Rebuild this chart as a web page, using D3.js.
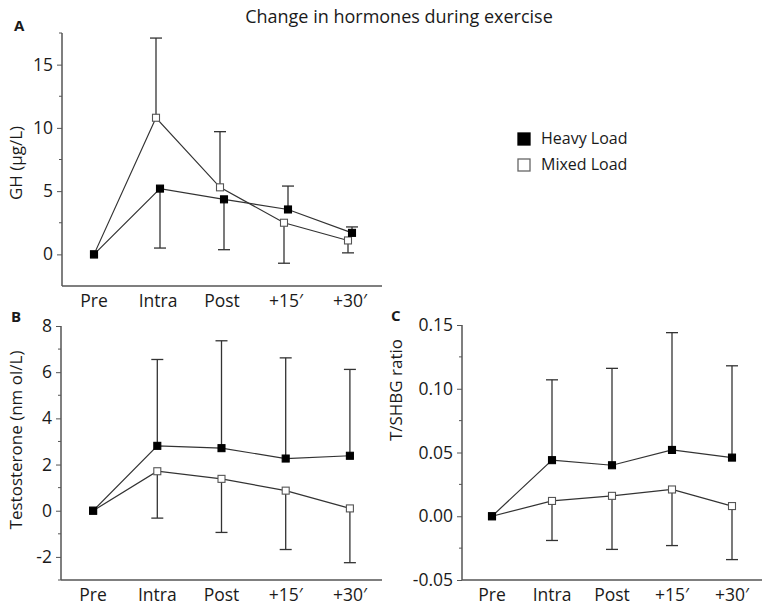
<!DOCTYPE html>
<html>
<head>
<meta charset="utf-8">
<script src="https://cdn.jsdelivr.net/npm/d3@7"></script>
<style>
  body { margin: 0; background: #fff; }
  text { font-family: "Open Sans", "Noto Sans", sans-serif; fill: #1a1a1a; }
</style>
</head>
<body>
<svg id="chart" width="771" height="610"></svg>
<script>
// categories
const timepoints = ["Pre", "Intra", "Post", "+15\u2032", "+30\u2032"];
const seriesNames = ["Heavy Load", "Mixed Load"];

// A: GH (ug/L)
const ghHeavy = [0, 5.2, 4.35, 3.55, 1.7];
const ghHeavySD = [0, 4.7, 3.98, 1.85, 0.47];
const ghMixed = [0, 10.8, 5.3, 2.5, 1.1];
const ghMixedSD = [0, 6.3, 4.4, 3.2, 0.98];

// B: testosterone (nmol/L)
const testHeavy = [0, 2.81, 2.71, 2.26, 2.38];
const testHeavySD = [0, 3.74, 4.65, 4.36, 3.74];
const testMixed = [0, 1.71, 1.38, 0.87, 0.1];
const testMixedSD = [0, 2.03, 2.32, 2.55, 2.35];

// C: T/SHBG ratio
const ratioHeavy = [0, 0.044, 0.04, 0.052, 0.046];
const ratioHeavySD = [0, 0.063, 0.076, 0.092, 0.072];
const ratioMixed = [0, 0.012, 0.016, 0.021, 0.008];
const ratioMixedSD = [0, 0.031, 0.042, 0.044, 0.042];

// tick values
const ghTicks = [0, 5, 10, 15];
const ghMinor = [2.5, 7.5, 12.5, 17.5];
const testTicks = [-2, 0, 2, 4, 6, 8];
const testMinor = [-3, -1, 1, 3, 5, 7];
const ratioTicks = [-0.05, 0, 0.05, 0.1, 0.15];
const ratioMinor = [-0.025, 0.025, 0.075, 0.125];

const svg = d3.select("#chart");
const loc = d3.formatLocale({ decimal: ".", thousands: ",", grouping: [3], currency: ["$", ""], minus: "-" });

const axisColor = "#555";
const lineColor = "#333";

// title
svg.append("text")
    .attr("x", 399)
    .attr("y", 23)
    .attr("text-anchor", "middle")
    .style("font-size", "18px")
    .text("Change in hormones during exercise");

// legend
const legend = svg.append("g").attr("transform", "translate(518,133)");
seriesNames.forEach(function (name, i) {
    legend.append("rect")
        .attr("x", 0)
        .attr("y", i * 26)
        .attr("width", 12)
        .attr("height", 12)
        .attr("fill", i === 0 ? "#000" : "#fff")
        .attr("stroke", i === 0 ? "#000" : "#666")
        .attr("stroke-width", 1.3);
    legend.append("text")
        .attr("x", 23)
        .attr("y", i * 26 + 11)
        .style("font-size", "16px")
        .text(name);
});

function drawPanel(opt) {
    const g = svg.append("g");

    const x = d3.scalePoint().domain(timepoints).range([opt.left, opt.right]).padding(0.5);
    const y = d3.scaleLinear().domain(opt.domain).range([opt.bottom, opt.top]);

    // y axis
    const yAxis = g.append("g")
        .attr("transform", `translate(${opt.left},0)`)
        .call(d3.axisLeft(y).tickValues(opt.ticks).tickSize(5).tickPadding(4).tickFormat(loc.format(opt.fmt)));
    yAxis.select(".domain").remove();
    yAxis.selectAll("line").attr("stroke", axisColor);
    yAxis.selectAll("text").style("font-size", "17.5px").attr("fill", "#1a1a1a");

    g.append("g")
        .selectAll("line")
        .data(opt.minor)
        .join("line")
        .attr("x1", opt.left - 3)
        .attr("x2", opt.left)
        .attr("y1", (d) => y(d))
        .attr("y2", (d) => y(d))
        .attr("stroke", axisColor);

    // axis lines
    g.append("line")
        .attr("x1", opt.left).attr("x2", opt.left)
        .attr("y1", opt.top).attr("y2", opt.bottom)
        .attr("stroke", axisColor).attr("stroke-width", 1.5);
    g.append("line")
        .attr("x1", opt.left).attr("x2", opt.right)
        .attr("y1", opt.bottom).attr("y2", opt.bottom)
        .attr("stroke", axisColor).attr("stroke-width", 1.5);

    // x labels
    g.append("g")
        .selectAll("text")
        .data(timepoints)
        .join("text")
        .attr("x", (d) => x(d))
        .attr("y", opt.bottom + 21)
        .attr("text-anchor", "middle")
        .style("font-size", "17.5px")
        .text((d) => d);

    // y label
    g.append("text")
        .attr("transform", `translate(${opt.labelX},${opt.labelY}) rotate(-90)`)
        .attr("text-anchor", "middle")
        .style("font-size", "17px")
        .text(opt.label);

    // panel letter
    g.append("text")
        .attr("x", opt.letterX)
        .attr("y", opt.letterY)
        .style("font-size", "15px")
        .style("font-weight", "bold")
        .text(opt.letter);

    const series = [
        { vals: opt.heavy, sd: opt.heavySD, other: opt.mixed, fill: "#000", stroke: "#000", dx: opt.dodge },
        { vals: opt.mixed, sd: opt.mixedSD, other: opt.heavy, fill: "#fff", stroke: "#555", dx: -opt.dodge },
    ];

    // error bars: upper series goes up, lower goes down
    series.forEach(function (s) {
        const pts = timepoints.map((t, i) => ({
            x: x(t) + s.dx,
            v: s.vals[i],
            end: s.vals[i] >= s.other[i] ? s.vals[i] + s.sd[i] : s.vals[i] - s.sd[i],
            sd: s.sd[i],
        })).filter((d) => d.sd > 0);
        const eb = g.append("g").attr("stroke", lineColor).attr("stroke-width", 1.3);
        eb.selectAll(".v").data(pts).join("line")
            .attr("x1", (d) => d.x).attr("x2", (d) => d.x)
            .attr("y1", (d) => y(d.v)).attr("y2", (d) => y(d.end));
        eb.selectAll(".c").data(pts).join("line")
            .attr("x1", (d) => d.x - 6).attr("x2", (d) => d.x + 6)
            .attr("y1", (d) => y(d.end)).attr("y2", (d) => y(d.end));
    });

    // lines
    series.forEach(function (s) {
        const line = d3.line()
            .x((d, i) => x(timepoints[i]) + (i === 0 ? 0 : s.dx))
            .y((d) => y(d));
        g.append("path")
            .attr("d", line(s.vals))
            .attr("fill", "none")
            .attr("stroke", lineColor)
            .attr("stroke-width", 1.2);
    });

    // markers (mixed first so heavy Pre sits on top)
    series.slice().reverse().forEach(function (s) {
        g.append("g")
            .selectAll("rect")
            .data(s.vals)
            .join("rect")
            .attr("x", (d, i) => x(timepoints[i]) + (i === 0 ? 0 : s.dx) - 3.5)
            .attr("y", (d) => y(d) - 3.5)
            .attr("width", 7)
            .attr("height", 7)
            .attr("fill", s.fill)
            .attr("stroke", s.stroke)
            .attr("stroke-width", 1.1);
    });
}

drawPanel({
    left: 62, right: 382, top: 33, bottom: 286,
    domain: [-2.5, 17.5], ticks: ghTicks, minor: ghMinor, fmt: "d",
    heavy: ghHeavy, heavySD: ghHeavySD, mixed: ghMixed, mixedSD: ghMixedSD,
    label: "GH (\u00b5g/L)", labelX: 22, labelY: 163,
    letter: "A", letterX: 14, letterY: 31, dodge: 2,
});

drawPanel({
    left: 61, right: 382, top: 326, bottom: 580,
    domain: [-3, 8], ticks: testTicks, minor: testMinor, fmt: "d",
    heavy: testHeavy, heavySD: testHeavySD, mixed: testMixed, mixedSD: testMixedSD,
    label: "Testosterone (nm ol/L)", labelX: 22, labelY: 440,
    letter: "B", letterX: 11, letterY: 322, dodge: 0,
});

drawPanel({
    left: 462, right: 762, top: 325, bottom: 580,
    domain: [-0.05, 0.15], ticks: ratioTicks, minor: ratioMinor, fmt: ".2f",
    heavy: ratioHeavy, heavySD: ratioHeavySD, mixed: ratioMixed, mixedSD: ratioMixedSD,
    label: "T/SHBG ratio", labelX: 402, labelY: 390,
    letter: "C", letterX: 391, letterY: 321, dodge: 0,
});
</script>
</body>
</html>
